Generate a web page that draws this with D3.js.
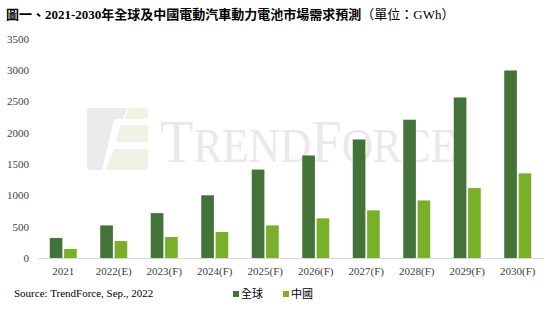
<!DOCTYPE html>
<html>
<head>
<meta charset="utf-8">
<script src="https://cdnjs.cloudflare.com/ajax/libs/d3/7.8.5/d3.min.js"></script>
<style>
  body { margin: 0; background: #fff; }
  svg { display: block; }
  .axis text { font-family: "Liberation Serif", serif; font-size: 11px; fill: #404040; }
</style>
</head>
<body>
<svg id="chart"></svg>
<script>
var categories = ['2021', '2022(E)', '2023(F)', '2024(F)', '2025(F)', '2026(F)', '2027(F)', '2028(F)', '2029(F)', '2030(F)'];
var seriesNames = ['全球', '中國'];
var globalValues = [320, 520, 716, 1000, 1410, 1635, 1890, 2205, 2560, 2990];
var chinaValues = [145, 270, 335, 415, 520, 632, 760, 918, 1115, 1350];
var yTicks = [0, 500, 1000, 1500, 2000, 2500, 3000, 3500];
var colors = ['#44733a', '#7aaf2a'];

var W = 551, H = 313;
var svg = d3.select('#chart').attr('width', W).attr('height', H);

var rows = categories.map(function(c, i) {
  return { cat: c, values: [globalValues[i], chinaValues[i]] };
});

var x0 = d3.scaleBand().domain(categories).range([38, 543]).padding(0);
var x1 = d3.scaleBand().domain(seriesNames).range([0, 27]).paddingInner(0.12);
var y = d3.scaleLinear().domain([0, 3500]).range([258, 38.5]);

// watermark (behind bars)
var wm = svg.append('g').attr('class', 'watermark');
wm.append('path')
  .attr('d', 'M87,112 Q87,108 91,108 L127,108 L123,119 L114,119 L102,170 L91,170 Q87,170 87,166 Z')
  .attr('fill', '#ebebeb');
wm.append('path')
  .attr('d', 'M129,108 L145,108 Q148,108 148,111 L148,119 L125,119 Z')
  .attr('fill', '#eef3e6');
wm.append('path')
  .attr('d', 'M120,125 L148,125 L148,142 L116,142 Z M114,149 L142,149 L148,149 L148,166 Q148,170 144,170 L105,170 Z')
  .attr('fill', '#eef3e6');

// letters laid out one by one, then squeezed to the logo text width
var wmWord = wm.append('g');
var cx = 0;
[['T', 62], ['REND', 49], ['F', 62], ['ORCE', 49]].forEach(function(p) {
  var t = wmWord.append('text')
    .attr('x', cx).attr('y', 0)
    .style('font-family', '"Liberation Serif", serif')
    .style('font-size', p[1] + 'px')
    .style('fill', '#e9e9e9')
    .text(p[0]);
  cx += t.node().getComputedTextLength();
});
wmWord.attr('transform', 'translate(160,162) scale(' + (297 / cx) + ',1)');

// title
var title = svg.append('text')
  .attr('x', 6).attr('y', 19)
  .style('font-family', '"Liberation Serif", "Noto Sans CJK TC", serif')
  .style('font-size', '13px')
  .style('fill', '#000');
title.append('tspan').style('font-weight', 'bold').text('圖一、2021-2030年全球及中國電動汽車動力電池市場需求預測');
title.append('tspan').style('font-weight', 'normal').text('（單位：GWh）');

// y axis
var yAxis = svg.append('g')
  .attr('class', 'axis')
  .attr('transform', 'translate(30,0)')
  .call(d3.axisLeft(y).tickValues(yTicks).tickSize(0).tickPadding(1).tickFormat(d3.format('d')));
yAxis.select('.domain').remove();

// x axis
var xAxis = svg.append('g')
  .attr('class', 'axis')
  .attr('transform', 'translate(0,' + y(0) + ')')
  .call(d3.axisBottom(x0).tickSize(0).tickPadding(9));
xAxis.select('.domain').attr('stroke', '#d9d9d9');

// bars
var groups = svg.append('g').selectAll('g')
  .data(rows)
  .enter()
  .append('g')
  .attr('transform', function(d) {
    return 'translate(' + (x0(d.cat) + (x0.bandwidth() - 27) / 2) + ',0)';
  });

groups.selectAll('rect')
  .data(function(d) { return d.values.map(function(v, i) { return { key: seriesNames[i], value: v, i: i }; }); })
  .enter()
  .append('rect')
  .attr('x', function(d) { return x1(d.key); })
  .attr('width', x1.bandwidth())
  .attr('y', function(d) { return y(d.value); })
  .attr('height', function(d) { return y(0) - y(d.value); })
  .attr('fill', function(d) { return colors[d.i]; });

// source
svg.append('text')
  .attr('x', 14).attr('y', 297)
  .style('font-family', '"Liberation Serif", serif')
  .style('font-size', '11px')
  .style('fill', '#000')
  .text('Source: TrendForce, Sep., 2022');

// legend
var legend = svg.append('g').selectAll('g')
  .data(seriesNames)
  .enter()
  .append('g')
  .attr('transform', function(d, i) { return 'translate(' + (233 + i * 50) + ',0)'; });
legend.append('rect')
  .attr('x', 0).attr('y', 291)
  .attr('width', 6).attr('height', 6)
  .attr('fill', function(d, i) { return colors[i]; });
legend.append('text')
  .attr('x', 8).attr('y', 298)
  .style('font-family', '"Noto Sans CJK TC", sans-serif')
  .style('font-size', '11px')
  .style('fill', '#000')
  .text(function(d) { return d; });
</script>
</body>
</html>
